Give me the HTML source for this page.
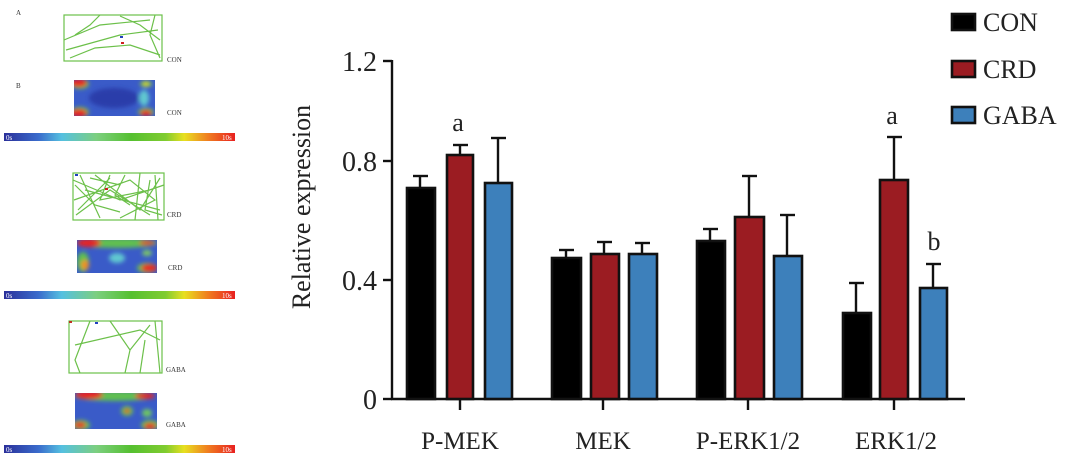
<!DOCTYPE html>
<html><head><meta charset="utf-8"><style>
html,body{margin:0;padding:0;background:#fff;}
svg{display:block;}
text{font-family:"Liberation Serif",serif;}
</style></head><body>
<svg width="1080" height="460" viewBox="0 0 1080 460" xmlns="http://www.w3.org/2000/svg">
<defs>
<linearGradient id="cb" x1="0" x2="1" y1="0" y2="0">
<stop offset="0" stop-color="#2a2f9a"/><stop offset="0.15" stop-color="#3a6ccc"/><stop offset="0.25" stop-color="#55c0e0"/><stop offset="0.4" stop-color="#7ccf80"/><stop offset="0.55" stop-color="#55c030"/><stop offset="0.7" stop-color="#80cc30"/><stop offset="0.78" stop-color="#e8e020"/><stop offset="0.88" stop-color="#f08020"/><stop offset="1" stop-color="#e82020"/>
</linearGradient>
<filter id="bl" x="-20%" y="-20%" width="140%" height="140%"><feGaussianBlur stdDeviation="2"/></filter>
</defs>
<rect width="1080" height="460" fill="#fff"/>

<g font-size="7" fill="#333">
<text x="16" y="15">A</text>
<text x="16" y="88">B</text>
<text x="167" y="62">CON</text>
<text x="167" y="115">CON</text>
<text x="167" y="217">CRD</text>
<text x="168" y="270">CRD</text>
<text x="166" y="372">GABA</text>
<text x="166" y="427">GABA</text>
</g>
<g fill="none" stroke="#6cc04a" stroke-width="1.2">
<rect x="64" y="15" width="98" height="46"/>
<path d="M64 40 L100 25 L150 20 M66 50 L120 35 L158 30 M70 58 L95 48 L130 45 L160 55 M100 15 L90 25 L75 35 M120 16 L140 25 L160 40 M155 15 L150 35 L160 58"/>
<rect x="73" y="173" width="91" height="47"/>
<path d="M73 180 L120 200 L164 185 M76 215 L110 190 L150 215 M80 175 L100 218 M95 175 L140 210 L160 178 M74 200 L130 180 L155 200 L120 218 M110 175 L100 200 L150 190 M140 173 L135 220 M85 190 L160 210 M78 210 L110 178 M150 180 L145 210 L162 215 M75 185 L95 205 L120 212 M125 175 L115 195 L130 205 M155 175 L158 220 M90 178 L120 185"/>
<rect x="69" y="321" width="93" height="52"/>
<path d="M90 321 L75 360 L80 373 M110 321 L130 350 L150 325 M75 345 L140 330 L160 340 M130 350 L125 373 M145 340 L140 373 M155 321 L160 373"/>
</g>
<rect x="120" y="36" width="3" height="2" fill="#2040c0"/><rect x="121" y="42" width="3" height="2" fill="#d02020"/>
<rect x="75" y="174" width="3" height="2" fill="#2040c0"/><rect x="105" y="188" width="3" height="2" fill="#d02020"/>
<rect x="69" y="321" width="3" height="2" fill="#c03020"/><rect x="95" y="322" width="3" height="2" fill="#2040c0"/>

<svg x="74" y="80" width="81" height="36"><rect width="81" height="36" fill="#3a5bc8"/>
<g filter="url(#bl)"><ellipse cx="40" cy="18" rx="25" ry="10" fill="#2a3eaa"/><ellipse cx="70" cy="18" rx="5" ry="8" fill="#60c8d0"/><ellipse cx="6" cy="4" rx="9" ry="5" fill="#60c050"/><ellipse cx="6" cy="32" rx="9" ry="5" fill="#60c050"/><ellipse cx="72" cy="32" rx="8" ry="4" fill="#60c050"/><ellipse cx="72" cy="4" rx="6" ry="3" fill="#80cc40"/>
<ellipse cx="5" cy="3" rx="8" ry="4" fill="#e82020"/><ellipse cx="5" cy="33" rx="8" ry="4" fill="#e82020"/><ellipse cx="72" cy="33" rx="6" ry="3" fill="#e82020"/><ellipse cx="72" cy="4" rx="3" ry="2" fill="#e8e020"/></g></svg>
<svg x="77" y="240" width="80" height="33"><rect width="80" height="33" fill="#3a5bc8"/>
<g filter="url(#bl)"><ellipse cx="40" cy="3" rx="40" ry="5" fill="#60c050"/><ellipse cx="6" cy="22" rx="6" ry="10" fill="#60c050"/><ellipse cx="70" cy="28" rx="10" ry="5" fill="#60c050"/><ellipse cx="40" cy="18" rx="8" ry="5" fill="#60c8d0"/><ellipse cx="70" cy="13" rx="5" ry="3" fill="#80cc60"/>
<ellipse cx="12" cy="3" rx="12" ry="4" fill="#e82020"/><ellipse cx="70" cy="3" rx="8" ry="2" fill="#e82020"/><ellipse cx="8" cy="25" rx="4" ry="5" fill="#f09020"/><ellipse cx="72" cy="28" rx="8" ry="4" fill="#e82020"/></g></svg>
<svg x="75" y="393" width="82" height="36"><rect width="82" height="36" fill="#3a5bc8"/>
<g filter="url(#bl)"><ellipse cx="40" cy="3" rx="40" ry="5" fill="#60c050"/><ellipse cx="52" cy="18" rx="6" ry="5" fill="#60c050"/><ellipse cx="72" cy="20" rx="5" ry="4" fill="#70c860"/><ellipse cx="6" cy="32" rx="9" ry="5" fill="#60c050"/><ellipse cx="75" cy="32" rx="9" ry="5" fill="#60c050"/>
<ellipse cx="14" cy="2" rx="14" ry="4" fill="#e82020"/><ellipse cx="70" cy="3" rx="10" ry="3" fill="#e82020"/><ellipse cx="52" cy="18" rx="3" ry="2" fill="#e82020"/><ellipse cx="5" cy="32" rx="6" ry="3" fill="#e82020"/><ellipse cx="75" cy="33" rx="6" ry="3" fill="#e82020"/></g></svg>

<g font-size="7" fill="#fff">
<rect x="4" y="133" width="231" height="8" fill="url(#cb)"/><text x="6" y="140">0s</text><text x="222" y="140">10s</text>
<rect x="4" y="291" width="231" height="8" fill="url(#cb)"/><text x="6" y="298">0s</text><text x="222" y="298">10s</text>
<rect x="4" y="445" width="231" height="8" fill="url(#cb)"/><text x="6" y="452">0s</text><text x="222" y="452">10s</text>
</g>

<g stroke="#111" stroke-width="2.4" fill="none">
<line x1="392" y1="60" x2="392" y2="400"/>
<line x1="391" y1="399" x2="965" y2="399"/>
<line x1="383" y1="61" x2="392" y2="61"/>
<line x1="383" y1="161" x2="392" y2="161"/>
<line x1="383" y1="280" x2="392" y2="280"/>
<line x1="383" y1="399" x2="392" y2="399"/>
<line x1="460" y1="399" x2="460" y2="410"/>
<line x1="603" y1="399" x2="603" y2="410"/>
<line x1="748" y1="399" x2="748" y2="410"/>
<line x1="894" y1="399" x2="894" y2="410"/>
</g>
<g font-size="28" fill="#222" text-anchor="end">
<text x="377" y="71">1.2</text>
<text x="377" y="171">0.8</text>
<text x="377" y="290">0.4</text>
<text x="377" y="409">0</text>
</g>
<text transform="translate(310,207) rotate(-90)" font-size="26" fill="#222" text-anchor="middle">Relative expression</text>

<g stroke="#111" stroke-width="2.4">
<line x1="420" y1="187" x2="420" y2="176"/><line x1="413" y1="176" x2="428" y2="176"/>
<line x1="460" y1="154" x2="460" y2="145"/><line x1="453" y1="145" x2="468" y2="145"/>
<line x1="498" y1="182" x2="498" y2="138"/><line x1="491" y1="138" x2="506" y2="138"/>
<line x1="566" y1="257" x2="566" y2="250"/><line x1="559" y1="250" x2="574" y2="250"/>
<line x1="604" y1="253" x2="604" y2="242"/><line x1="597" y1="242" x2="612" y2="242"/>
<line x1="642" y1="253" x2="642" y2="243"/><line x1="635" y1="243" x2="650" y2="243"/>
<line x1="710" y1="240" x2="710" y2="229"/><line x1="703" y1="229" x2="718" y2="229"/>
<line x1="749" y1="216" x2="749" y2="176"/><line x1="742" y1="176" x2="757" y2="176"/>
<line x1="787" y1="255" x2="787" y2="215"/><line x1="780" y1="215" x2="795" y2="215"/>
<line x1="856" y1="312" x2="856" y2="283"/><line x1="849" y1="283" x2="864" y2="283"/>
<line x1="894" y1="179" x2="894" y2="137"/><line x1="887" y1="137" x2="902" y2="137"/>
<line x1="933" y1="287" x2="933" y2="264"/><line x1="926" y1="264" x2="941" y2="264"/>
</g>
<g stroke="#111" stroke-width="2.6">
<rect x="407" y="188" width="28" height="211" fill="#000"/>
<rect x="447" y="155" width="26" height="244" fill="#9b1c22"/>
<rect x="485" y="183" width="27" height="216" fill="#3d80bb"/>
<rect x="552" y="258" width="29" height="141" fill="#000"/>
<rect x="591" y="254" width="28" height="145" fill="#9b1c22"/>
<rect x="629" y="254" width="28" height="145" fill="#3d80bb"/>
<rect x="697" y="241" width="28" height="158" fill="#000"/>
<rect x="735" y="217" width="29" height="182" fill="#9b1c22"/>
<rect x="774" y="256" width="28" height="143" fill="#3d80bb"/>
<rect x="843" y="313" width="28" height="86" fill="#000"/>
<rect x="880" y="180" width="28" height="219" fill="#9b1c22"/>
<rect x="920" y="288" width="27" height="111" fill="#3d80bb"/>
</g>
<g font-size="26" fill="#222" text-anchor="middle">
<text x="458" y="131">a</text>
<text x="892" y="124">a</text>
<text x="934" y="250">b</text>
</g>
<g font-size="25" fill="#222" text-anchor="middle">
<text x="460" y="449">P-MEK</text>
<text x="603" y="449">MEK</text>
<text x="748" y="449">P-ERK1/2</text>
<text x="896" y="449">ERK1/2</text>
</g>
<g stroke="#111" stroke-width="2.6">
<rect x="952" y="14" width="23" height="16" fill="#000"/>
<rect x="952" y="61" width="23" height="16" fill="#9b1c22"/>
<rect x="952" y="107" width="23" height="16" fill="#3d80bb"/>
</g>
<g font-size="26" fill="#222">
<text x="983" y="31">CON</text>
<text x="983" y="78">CRD</text>
<text x="983" y="124">GABA</text>
</g>
</svg>
</body></html>
